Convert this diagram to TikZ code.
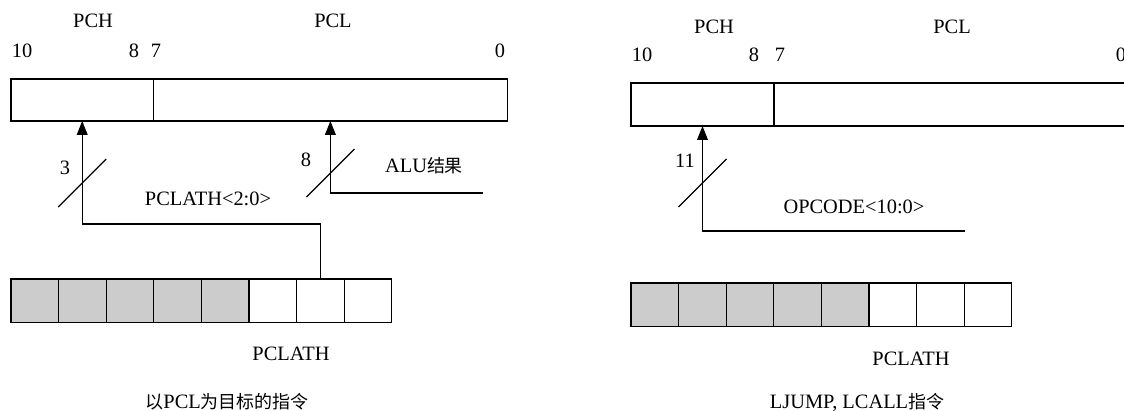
\documentclass[tikz,border=0pt]{standalone}
\usepackage{fontspec}
\setmainfont{Liberation Serif}
\newfontfamily\cjk[Scale=0.88]{Noto Sans CJK SC}
\usetikzlibrary{arrows.meta, positioning, calc}
\definecolor{cellgray}{HTML}{CCCCCC}

\begin{document}
\begin{tikzpicture}[
    x=0.5pt, y=-0.5pt,
    line width=0.6pt,
    every node/.style={font=\fontsize{10.2pt}{12pt}\selectfont},
    reg/.style={rectangle, draw, minimum height=21pt, inner sep=0pt, outer sep=0pt, anchor=north west},
    cell/.style={rectangle, draw, minimum width=23.8pt, minimum height=21.8pt, inner sep=0pt, outer sep=0pt, anchor=north west},
    lbl/.style={inner sep=0pt},
    arrow/.style={-{Triangle[length=7pt, width=5.4pt]}}
]
\useasboundingbox (0,0) rectangle (1124,411);

% left: instructions with PCL as destination
\node[reg, minimum width=71.2pt] (pchA) at (11,79) {};
\node[reg, minimum width=177pt, right=0pt of pchA] (pclA) {};
\node[lbl] (pchAt) at (93,21) {PCH};
\node[lbl] (pclAt) at (333,21) {PCL};
\node[lbl] (bA10) at (22,51) {10};
\node[lbl] (bA8) at (134,51) {8};
\node[lbl] (bA7) at (156,51) {7};
\node[lbl] (bA0) at (500,51) {0};

\foreach \i in {1,...,5}
  \node[cell, fill=cellgray] (la\i) at ({11+(\i-1)*47.6},279) {};
\foreach \i in {6,...,8}
  \node[cell] (la\i) at ({11+(\i-1)*47.6},279) {};
\node[lbl] (lathA) at (291,354) {PCLATH};

\coordinate (alu) at (483,193);
\draw[arrow] (la7.north) -- ++(0,-55) -| (pchA.south);
\draw[arrow] (alu) -| (pclA.south);
\draw ($(pchA.south)+(-24,86)$) -- ++(48,-48);
\draw ($(pclA.south)+(-24,76)$) -- ++(48,-48);
\node[lbl] (wA3) at (65,168) {3};
\node[lbl] (wA8) at (306,160) {8};
\node[lbl] (aluT) at (424,166) {ALU{\cjk 结果}};
\node[lbl] (selA) at (208,199) {PCLATH<2:0>};
\node[lbl] (capA) at (227,402) {{\cjk 以}PCL{\cjk 为目标的指令}};

% right: LJUMP, LCALL
\node[reg, minimum width=71.5pt, minimum height=21.5pt] (pchB) at (631,83) {};
\node[reg, minimum width=178pt, minimum height=21.5pt, right=0pt of pchB] (pclB) {};
\node[lbl] (pchBt) at (714,27) {PCH};
\node[lbl] (pclBt) at (952,27) {PCL};
\node[lbl] (bB10) at (642,55) {10};
\node[lbl] (bB8) at (754,55) {8};
\node[lbl] (bB7) at (780,55) {7};
\node[lbl] (bB0) at (1121,55) {0};

\foreach \i in {1,...,5}
  \node[cell, fill=cellgray] (rb\i) at ({631+(\i-1)*47.6},283) {};
\foreach \i in {6,...,8}
  \node[cell] (rb\i) at ({631+(\i-1)*47.6},283) {};
\node[lbl] (lathB) at (911,359) {PCLATH};

\coordinate (opc) at (965,231);
\draw[arrow] (opc) -| (pchB.south);
\draw ($(pchB.south)+(-24,81)$) -- ++(48,-48);
\node[lbl] (wB11) at (685,161) {11};
\node[lbl] (selB) at (854,207) {OPCODE<10:0>};
\node[lbl] (capB) at (857,402) {LJUMP, LCALL{\cjk 指令}};
\end{tikzpicture}
\end{document}
